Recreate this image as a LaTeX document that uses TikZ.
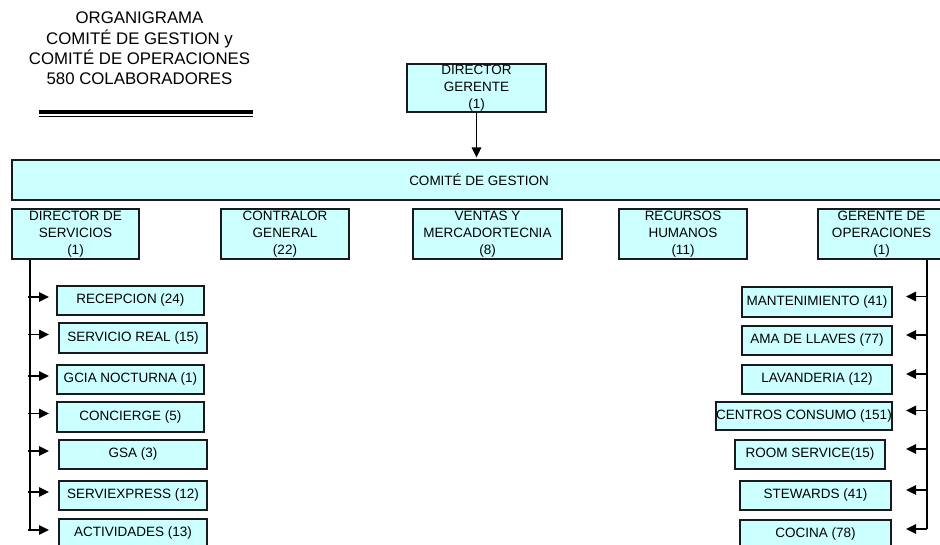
\documentclass[tikz,border=0pt]{standalone}
\usepackage{fontspec}
\setsansfont{Liberation Sans}
\usetikzlibrary{arrows.meta, positioning, calc}
\definecolor{orgfill}{HTML}{CCFFFF}
\definecolor{orgdraw}{HTML}{1A1A1A}
\tikzset{
  orgbox/.style  = {font=\sffamily\fontsize{13.5}{16.7}\selectfont, align=center,
                    draw=orgdraw, fill=orgfill, line width=1.2pt, inner sep=0pt},
  orgttl/.style  = {font=\sffamily\fontsize{16.8}{20.3}\selectfont, align=center},
  orgline/.style = {draw=black, line width=1.5pt},
  orgarr/.style  = {orgline, -{Triangle[length=10pt, width=9.5pt]}},
}

\begin{document}
\begin{tikzpicture}[x=1pt, y=-1pt]
  \useasboundingbox (0,0) rectangle (940,545);
  \clip (0,0) rectangle (940,545);

  \node[orgttl] (ttl) at (139.5,48.5)
       {ORGANIGRAMA\\COMITÉ DE GESTION y\\COMITÉ DE OPERACIONES\\580 COLABORADORES};
  \draw[line width=4.5pt] (39,112) -- (253,112);
  \draw[line width=1.3pt] (39,116.5) -- (253,116.5);

  \node[orgbox, minimum width=139pt, minimum height=48pt] (dg) at (476.5,88)
       {DIRECTOR\\GERENTE\\(1)};
  \node[orgbox, minimum width=934pt, minimum height=40pt] (cg) at (479,180)
       {COMITÉ DE GESTION};
  \draw[orgarr, shorten >=2pt] (dg.south) -- (dg.south |- cg.north);

  \node[orgbox, minimum width=127pt, minimum height=50pt] (ds) at (75.5,234)
       {DIRECTOR DE\\SERVICIOS\\(1)};
  \node[orgbox, minimum width=128pt, minimum height=50pt] (cgral) at (285,234)
       {CONTRALOR\\GENERAL\\(22)};
  \node[orgbox, minimum width=149pt, minimum height=50pt] (vm) at (487.5,234)
       {VENTAS Y\\MERCADORTECNIA\\(8)};
  \node[orgbox, minimum width=128pt, minimum height=50pt] (rh) at (683,234)
       {RECURSOS\\HUMANOS\\(11)};
  \node[orgbox, minimum width=127pt, minimum height=50pt] (go) at (881.5,234)
       {GERENTE DE\\OPERACIONES\\(1)};

  \node[orgbox, minimum width=147pt, minimum height=29pt] (rec) at (130.5,300.5) {RECEPCION (24)};
  \node[orgbox, minimum width=148pt, minimum height=30pt] (sreal) at (133,338) {SERVICIO REAL (15)};
  \node[orgbox, minimum width=147pt, minimum height=29pt] (gcia) at (130.5,379.5) {GCIA NOCTURNA (1)};
  \node[orgbox, minimum width=147pt, minimum height=30pt] (conc) at (130.5,417) {CONCIERGE (5)};
  \node[orgbox, minimum width=148pt, minimum height=29pt] (gsa) at (133,454.5) {GSA (3)};
  \node[orgbox, minimum width=148pt, minimum height=29pt] (sexp) at (133,495.5) {SERVIEXPRESS (12)};
  \node[orgbox, minimum width=148pt, minimum height=29pt] (act) at (133,533.5) {ACTIVIDADES (13)};

  \node[orgbox, minimum width=150pt, minimum height=30pt] (mant) at (817,302) {MANTENIMIENTO (41)};
  \node[orgbox, minimum width=150pt, minimum height=29pt] (ama) at (817,340.5) {AMA DE LLAVES (77)};
  \node[orgbox, minimum width=150pt, minimum height=29pt] (lav) at (817,379.5) {LAVANDERIA (12)};
  \node[orgbox, minimum width=176pt, minimum height=28pt] (cent) at (804,416) {CENTROS CONSUMO (151)};
  \node[orgbox, minimum width=150pt, minimum height=29pt] (room) at (810,454.5) {ROOM SERVICE(15)};
  \node[orgbox, minimum width=151pt, minimum height=29pt] (stew) at (815.5,495.5) {STEWARDS (41)};
  \node[orgbox, minimum width=151pt, minimum height=29pt] (coc) at (815.5,534.5) {COCINA (78)};

  \coordinate (strunk) at (ds.south -| 30,0);
  \coordinate (stip) at (49,0);
  \coordinate (otrunk) at (go.south -| 927,0);
  \coordinate (otip) at (906,0);

  \draw[orgline] (strunk) -- ($(strunk |- act.west)+(0,-3.5)$);
  \foreach \n in {rec,sreal,gcia,conc,gsa,sexp,act}
    \draw[orgarr] ($(strunk |- \n.west)+(-2,-3.5)$) -- ($(stip |- \n.west)+(0,-3.5)$);

  \draw[orgline] (otrunk) -- ($(otrunk |- coc.east)+(0,-5.5)$);
  \foreach \n in {mant,ama,lav,cent,room,stew,coc}
    \draw[orgarr] ($(otrunk |- \n.east)+(0,-5.5)$) -- ($(otip |- \n.east)+(0,-5.5)$);
\end{tikzpicture}
\end{document}
